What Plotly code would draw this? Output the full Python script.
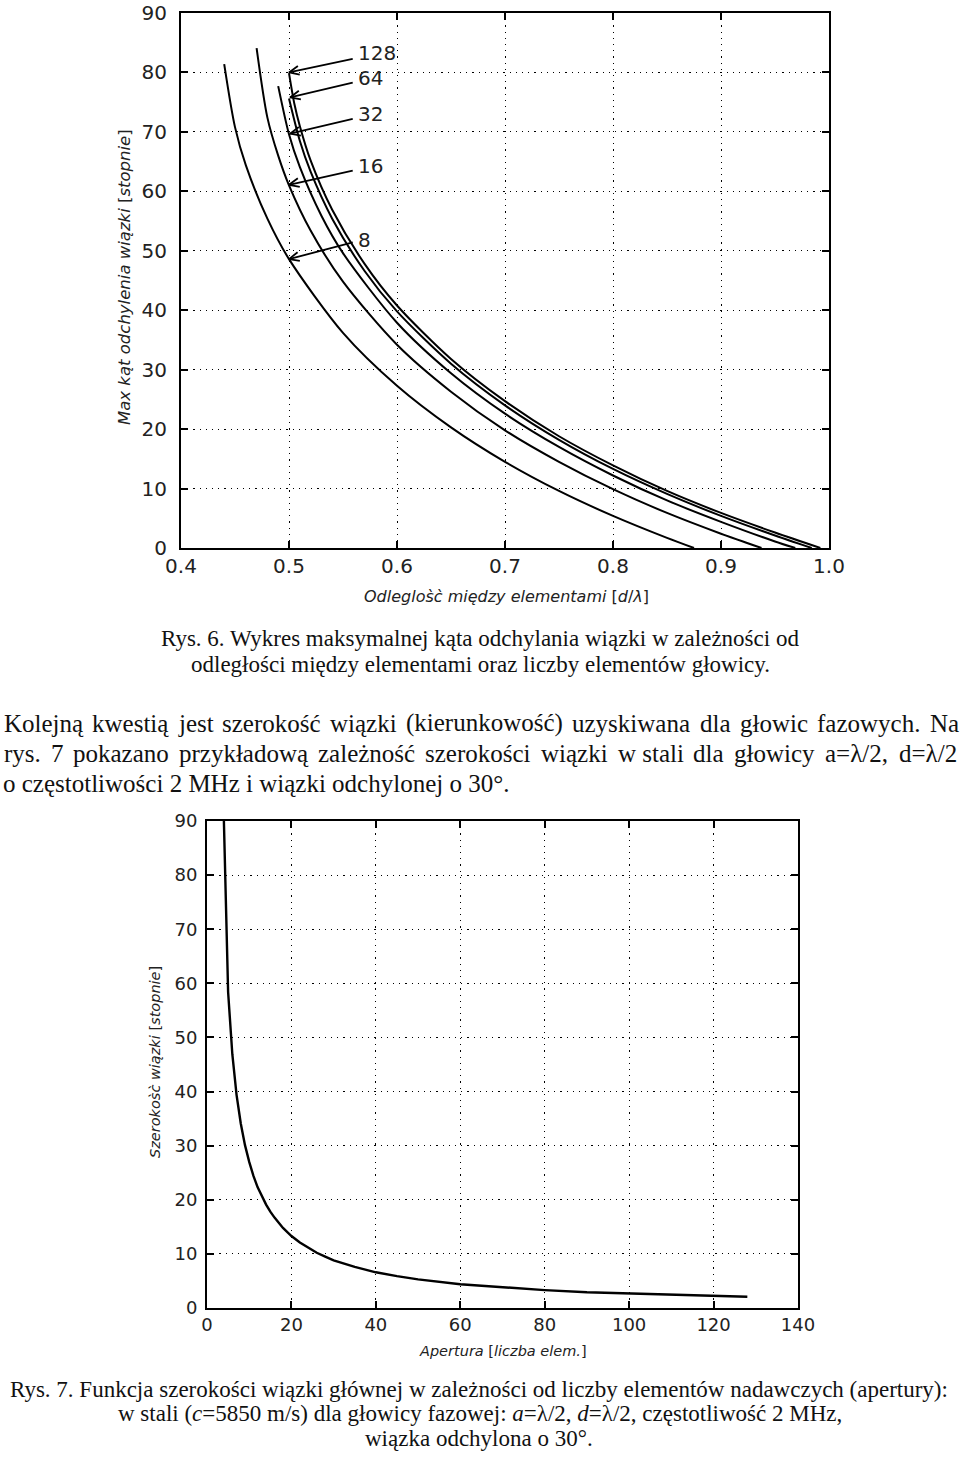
import math
import plotly.graph_objects as go

W, H = 960, 1460

# ---------------- Chart 1: max steering angle vs element pitch ----------------
n8_x = [0.44, 0.45, 0.46, 0.48, 0.50, 0.55, 0.60, 0.65, 0.70, 0.75, 0.80, 0.85, 0.875]
n8_y = [81.4, 70.8, 64.4, 55.4, 48.6, 36.2, 27.3, 20.3, 14.5, 9.6, 5.4, 1.7, 0.0]
n16_x = [0.47, 0.48, 0.49, 0.50, 0.52, 0.55, 0.60, 0.65, 0.70, 0.75, 0.80, 0.85, 0.90, 0.9375]
n16_y = [84.1, 72.4, 66.0, 61.0, 53.4, 44.8, 34.2, 26.3, 19.8, 14.5, 9.9, 5.9, 2.4, 0.0]
n32_x = [0.49, 0.50, 0.51, 0.53, 0.55, 0.60, 0.65, 0.70, 0.75, 0.80, 0.85, 0.90, 0.95, 0.96875]
n32_y = [77.7, 69.6, 64.1, 55.9, 49.6, 37.9, 29.4, 22.6, 17.0, 12.2, 8.0, 4.4, 1.1, 0.0]
n64_x = [0.50, 0.51, 0.52, 0.54, 0.57, 0.60, 0.65, 0.70, 0.75, 0.80, 0.85, 0.90, 0.95, 0.984]
n64_y = [75.6, 68.5, 63.3, 55.4, 46.6, 39.8, 31.0, 24.0, 18.2, 13.3, 9.1, 5.4, 2.1, 0.0]
n128_x = [0.50, 0.505, 0.51, 0.52, 0.54, 0.57, 0.60, 0.65, 0.70, 0.75, 0.80, 0.85, 0.90, 0.95, 0.992]
n128_y = [79.9, 74.7, 71.0, 65.2, 56.9, 47.8, 40.8, 31.8, 24.7, 18.8, 13.9, 9.6, 5.9, 2.6, 0.0]

arrow_labels = ["128", "64", "32", "16", "8"]
arrow_head_x = [0.500, 0.501, 0.501, 0.500, 0.500]
arrow_head_y = [80.0, 75.8, 69.7, 61.1, 48.6]
arrow_tail_x = [0.559, 0.559, 0.559, 0.559, 0.559]
arrow_tail_y = [82.3, 78.3, 72.2, 63.5, 51.4]
arrow_label_x = [0.562, 0.562, 0.562, 0.562, 0.562]
arrow_label_y = [83.2, 79.0, 73.0, 64.3, 51.8]

x1_ticks = [0.4, 0.5, 0.6, 0.7, 0.8, 0.9, 1.0]
x1_ticktext = ["0.4", "0.5", "0.6", "0.7", "0.8", "0.9", "1.0"]
y_ticks = [0, 10, 20, 30, 40, 50, 60, 70, 80, 90]

# ---------------- Chart 2: beam width vs aperture ----------------
n_elem = [4, 5, 6, 7, 8, 9, 10, 11, 12, 13, 14, 15, 16, 18, 20, 22, 24, 26, 28, 30,
          35, 40, 45, 50, 60, 70, 80, 90, 100, 110, 120, 128]
beam_width = [90.0, 58.4, 46.9, 39.4, 34.1, 30.1, 27.0, 24.4, 22.3, 20.6, 19.1, 17.8, 16.7,
              14.8, 13.3, 12.1, 11.1, 10.2, 9.5, 8.8, 7.6, 6.6, 5.9, 5.3, 4.4, 3.8, 3.3,
              2.9, 2.65, 2.4, 2.2, 2.07]
x2_ticks = [0, 20, 40, 60, 80, 100, 120, 140]

# ---------------- layout geometry (pixels) ----------------
P1 = dict(left=181, right=829, top=13, bottom=548)
P2 = dict(left=207, right=798, top=821, bottom=1308)
X1_RANGE = [0.4, 1.0]
Y1_RANGE = [0, 90]
X2_RANGE = [0, 140]
Y2_RANGE = [0, 90]

fig = go.Figure()

curve_style = dict(color="black", width=2.0, shape="spline", smoothing=0.8)
for xs, ys in [(n8_x, n8_y), (n16_x, n16_y), (n32_x, n32_y), (n64_x, n64_y), (n128_x, n128_y)]:
    fig.add_trace(go.Scatter(x=xs, y=ys, mode="lines", line=curve_style,
                             xaxis="x", yaxis="y", showlegend=False, hoverinfo="skip"))

# arrows (shaft + open chevron head), computed in pixel space
sx = (P1["right"] - P1["left"]) / (X1_RANGE[1] - X1_RANGE[0])
sy = (P1["bottom"] - P1["top"]) / (Y1_RANGE[1] - Y1_RANGE[0])
ax_x, ax_y = [], []
head_len, head_ang = 11.0, math.radians(24)
for hx, hy, tx, ty in zip(arrow_head_x, arrow_head_y, arrow_tail_x, arrow_tail_y):
    ax_x += [tx, hx, None]
    ax_y += [ty, hy, None]
    dx, dy = (tx - hx) * sx, (ty - hy) * sy
    L = math.hypot(dx, dy)
    ux, uy = dx / L, dy / L
    pts = []
    for s in (1, -1):
        c, si = math.cos(s * head_ang), math.sin(s * head_ang)
        rx, ry = ux * c - uy * si, ux * si + uy * c
        pts.append((hx + head_len * rx / sx, hy + head_len * ry / sy))
    ax_x += [pts[0][0], hx, pts[1][0], None]
    ax_y += [pts[0][1], hy, pts[1][1], None]
fig.add_trace(go.Scatter(x=ax_x, y=ax_y, mode="lines", line=dict(color="black", width=1.8),
                         xaxis="x", yaxis="y", showlegend=False, hoverinfo="skip"))

fig.add_trace(go.Scatter(x=n_elem, y=beam_width, mode="lines",
                         line=dict(color="black", width=2.4),
                         xaxis="x2", yaxis="y2", showlegend=False, hoverinfo="skip"))

annotations = []
for lab, lx, ly in zip(arrow_labels, arrow_label_x, arrow_label_y):
    annotations.append(dict(text=lab, x=lx, y=ly, xref="x", yref="y", showarrow=False,
                            xanchor="left", yanchor="middle",
                            font=dict(family="DejaVu Sans", size=20, color="#222")))


def ptext(text, xpx, ypx, size, family="Liberation Serif", xanchor="center", angle=0, color="#111"):
    annotations.append(dict(text=text, x=xpx / W, y=1 - ypx / H, xref="paper", yref="paper",
                            showarrow=False, xanchor=xanchor, yanchor="middle", textangle=angle,
                            borderpad=0, font=dict(family=family, size=size, color=color)))


# Times / Liberation Serif advance widths (em) used to justify body text
SERIF_W = {" ": .25, "(": .333, ")": .333, ",": .25, ".": .25, "/": .278, "=": .564, "°": .4,
           "λ": .55, "a": .444, "b": .5, "c": .444, "d": .5, "e": .444, "f": .333, "g": .5,
           "h": .5, "i": .278, "j": .278, "k": .5, "l": .278, "m": .778, "n": .5, "o": .5,
           "p": .5, "r": .333, "s": .389, "t": .278, "u": .5, "w": .722, "y": .5, "z": .444,
           "ą": .444, "ę": .444, "ś": .389, "ć": .444, "ż": .444, "ł": .278, "K": .722,
           "N": .722}

CAP = 23.0
BODY = 25


def justify(words, ypx, size, left=3, right=958):
    widths = [sum(SERIF_W.get(ch, .5) for ch in w) * size for w in words]
    gap = (right - left - sum(widths)) / (len(words) - 1)
    x = left
    for w, wd in zip(words, widths):
        ptext(w, x, ypx, size, xanchor="left")
        x += wd + gap


# axis titles
ptext("<i>Odleglos̀c̀ między elementami</i> [<i>d</i>/<i>λ</i>]", 506, 596, 16, "DejaVu Sans", color="#222")
ptext("<i>Max kąt odchylenia wiązki</i> [<i>stopnie</i>]", 124, 277, 16.5, "DejaVu Sans", angle=-90, color="#222")
ptext("<i>Apertura</i> [<i>liczba elem.</i>]", 503, 1351, 14.5, "DejaVu Sans", color="#222")
ptext("<i>Szerokos̀c̀ wiązki</i> [<i>stopnie</i>]", 155, 1062, 14.5, "DejaVu Sans", angle=-90, color="#222")

# captions and body text
ptext("Rys. 6. Wykres maksymalnej kąta odchylania wiązki w zależności od", 480, 639, CAP)
ptext("odległości między elementami oraz liczby elementów głowicy.", 480, 664, CAP)

body_line1 = ["Kolejną", "kwestią", "jest", "szerokość", "wiązki", "(kierunkowość)", "uzyskiwana",
              "dla", "głowic", "fazowych.", "Na"]
body_line2 = ["rys.", "7", "pokazano", "przykładową", "zależność", "szerokości", "wiązki",
              "w stali", "dla", "głowicy", "a=λ/2,", "d=λ/2"]
justify(body_line1, 723, BODY)
justify(body_line2, 753, BODY)
ptext("o częstotliwości 2 MHz i wiązki odchylonej o 30°.", 2, 783, BODY, xanchor="left")

ptext("Rys. 7. Funkcja szerokości wiązki głównej w zależności od liczby elementów nadawczych (apertury):",
      479, 1389, CAP)
ptext("w stali (<i>c</i>=5850 m/s) dla głowicy fazowej: <i>a</i>=λ/2, <i>d</i>=λ/2, częstotliwość 2 MHz,",
      480, 1413, CAP)
ptext("wiązka odchylona o 30°.", 479, 1438, CAP)


def axis(domain, rng, tickvals, ticktext, size, anchor, standoff):
    return dict(domain=domain, range=rng, tickvals=tickvals, ticktext=ticktext,
                showline=True, linecolor="black", linewidth=2, mirror="allticks",
                ticks="inside", ticklen=7, tickwidth=1.5, tickcolor="black",
                showgrid=True, gridcolor="black", gridwidth=1.2, griddash="1.2px,5px",
                zeroline=False, anchor=anchor, ticklabelstandoff=standoff, automargin=False,
                tickfont=dict(family="DejaVu Sans", size=size, color="#222"))


fig.update_layout(
    width=W, height=H, margin=dict(l=0, r=0, t=0, b=0, autoexpand=False),
    paper_bgcolor="white", plot_bgcolor="white", showlegend=False,
    xaxis=axis([P1["left"] / W, P1["right"] / W], X1_RANGE, x1_ticks, x1_ticktext, 20, "y", -1),
    yaxis=axis([1 - P1["bottom"] / H, 1 - P1["top"] / H], Y1_RANGE, y_ticks,
               [str(v) for v in y_ticks], 20, "x", 8),
    xaxis2=axis([P2["left"] / W, P2["right"] / W], X2_RANGE, x2_ticks,
                [str(v) for v in x2_ticks], 18, "y2", -1),
    yaxis2=axis([1 - P2["bottom"] / H, 1 - P2["top"] / H], Y2_RANGE, y_ticks,
                [str(v) for v in y_ticks], 18, "x2", 4),
    annotations=annotations,
)

fig.write_html("out.html")
